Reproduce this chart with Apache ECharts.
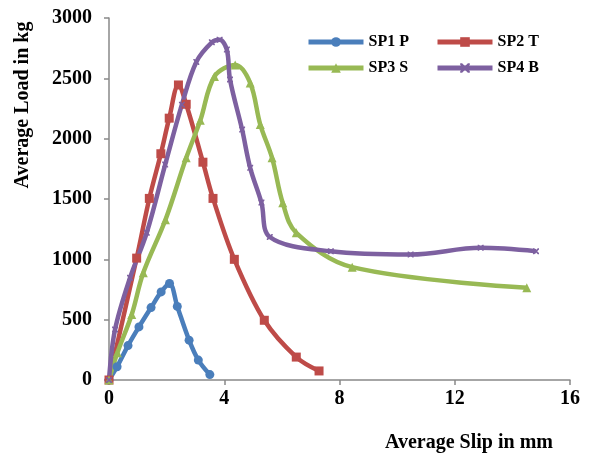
<!DOCTYPE html>
<html lang="en">
<head>
    <meta charset="UTF-8">
    <title>Load vs Slip</title>
    <script src="https://cdn.jsdelivr.net/npm/echarts@6/dist/echarts.min.js"></script>
    <style>
        * { margin: 0; padding: 0 }
        html, body { width: 100%; height: 100%; background: #fff; }
        #main { width: 590px; height: 460px; }
    </style>
</head>
<body>
    <div id="main"></div>
    <script type="text/javascript">
        // slip (mm) and load (kg)
        var sp1Slip = [0, 0.28, 0.66, 1.04, 1.46, 1.81, 2.1, 2.37, 2.78, 3.1, 3.5];
        var sp1Load = [0, 110, 285, 440, 600, 730, 800, 610, 330, 165, 45];

        var sp2Slip = [0, 0.96, 1.40, 1.80, 2.09, 2.41, 2.68, 3.26, 3.61, 4.35, 5.39, 6.5, 7.29];
        var sp2Load = [0, 1010, 1505, 1875, 2170, 2445, 2285, 1805, 1505, 1000, 495, 190, 75];

        var sp3Slip = [0, 0.29, 0.79, 1.19, 1.96, 2.68, 3.17, 3.66, 4.38, 4.9, 5.25, 5.66, 6.03, 6.5, 8.44, 14.5];
        var sp3Load = [0, 225, 543, 888, 1328, 1841, 2152, 2515, 2610, 2462, 2117, 1841, 1468, 1220, 935, 765];

        var sp4Slip = [0, 0.21, 0.73, 1.31, 1.95, 2.53, 3.03, 3.57, 3.84, 4.09, 4.2, 4.62, 4.9, 5.29, 5.58, 7.7, 10.47, 12.9, 14.82];
        var sp4Load = [0, 418, 847, 1220, 1785, 2282, 2636, 2798, 2820, 2738, 2490, 2075, 1758, 1470, 1185, 1067, 1040, 1095, 1067];

        var xTicks = [0, 4, 8, 12, 16];
        var yTicks = [0, 500, 1000, 1500, 2000, 2500, 3000];

        function pairs(xs, ys) {
            return xs.map(function (x, i) { return [x, ys[i]]; });
        }

        var font = '"Liberation Serif", "Times New Roman", serif';
        var crossPath = 'path://M0,0 L0.4,0 L2,1.6 L2,2 L1.6,2 L0,0.4 Z M2,0 L2,0.4 L0.4,2 L0,2 L0,1.6 L1.6,0 Z';

        function line(name, data, color, symbol, size) {
            return {
                name: name,
                type: 'line',
                data: data,
                smooth: 0.35,
                symbol: symbol,
                symbolSize: size,
                showAllSymbol: true,
                lineStyle: { width: 4.5, color: color },
                itemStyle: { color: color },
                z: 2
            };
        }

        var myChart = echarts.init(document.getElementById('main'));
        var legendText = { fontFamily: font, fontWeight: 'bold', fontSize: 16, color: '#000' };
        var legendBase = {
            orient: 'vertical',
            top: 34, padding: 0,
            itemWidth: 55, itemHeight: 12, itemGap: 10,
            lineStyle: { width: 5 },
            textStyle: legendText
        };

        var option = {
            animation: false,
            grid: { left: 109, right: 20, top: 18, bottom: 80, containLabel: false },
            legend: [
                Object.assign({ data: ['SP1 P', 'SP3 S'], left: 306 }, legendBase),
                Object.assign({ data: ['SP2 T', 'SP4 B'], left: 435 }, legendBase)
            ],
            xAxis: {
                type: 'value',
                min: xTicks[0], max: xTicks[xTicks.length - 1], interval: 4,
                axisLine: { lineStyle: { color: '#898989', width: 1.5 } },
                axisTick: { show: true, length: 5, lineStyle: { color: '#898989', width: 1.5 } },
                splitLine: { show: false },
                axisLabel: { fontFamily: font, fontWeight: 'bold', fontSize: 20, color: '#000', margin: 9 }
            },
            yAxis: {
                type: 'value',
                min: yTicks[0], max: yTicks[yTicks.length - 1], interval: 500,
                axisLine: { show: true, lineStyle: { color: '#898989', width: 1.5 } },
                axisTick: { show: true, length: 5, lineStyle: { color: '#898989', width: 1.5 } },
                splitLine: { show: false },
                axisLabel: {
                    fontFamily: font, fontWeight: 'bold', fontSize: 20, color: '#000', margin: 17,
                    formatter: function (v) { return String(v); }
                }
            },
            graphic: [
                {
                    type: 'text',
                    x: 23, y: 105,
                    rotation: Math.PI / 2,
                    style: {
                        text: 'Average Load in kg',
                        font: 'bold 20px ' + font,
                        fill: '#000',
                        align: 'center',
                        verticalAlign: 'middle'
                    }
                },
                {
                    type: 'text',
                    x: 469, y: 443,
                    style: {
                        text: 'Average Slip in mm',
                        font: 'bold 20px ' + font,
                        fill: '#000',
                        align: 'center',
                        verticalAlign: 'middle'
                    }
                }
            ],
            series: [
                line('SP1 P', pairs(sp1Slip, sp1Load), '#4a7ebb', 'circle', 9),
                line('SP2 T', pairs(sp2Slip, sp2Load), '#be4b48', 'rect', 9),
                line('SP3 S', pairs(sp3Slip, sp3Load), '#98b954', 'triangle', 9),
                line('SP4 B', pairs(sp4Slip, sp4Load), '#7d60a0', crossPath, 6)
            ]
        };

        myChart.setOption(option);
    </script>
</body>
</html>
